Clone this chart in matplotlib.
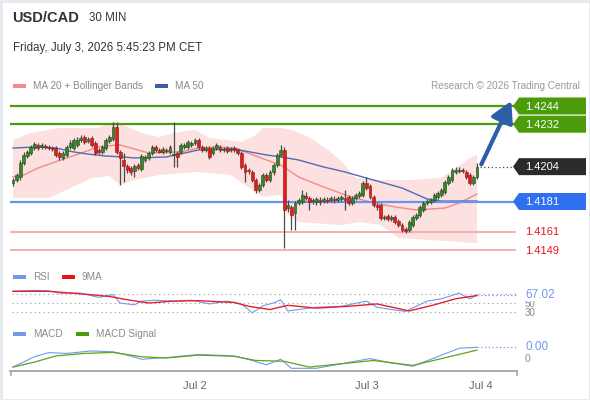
import matplotlib
matplotlib.use("Agg")
import matplotlib.pyplot as plt
import numpy as np
from matplotlib.patches import Polygon, Rectangle

plt.rcParams['font.family'] = ['Liberation Sans', 'DejaVu Sans']

# ---- 30 min candles (index 0 = first bar on the chart)
opens = [1.41932, 1.41952, 1.41972, 1.42064, 1.42110, 1.42130, 1.42163, 1.42183, 1.42170, 1.42176,
         1.42170, 1.42163, 1.42163, 1.42130, 1.42097, 1.42117, 1.42170, 1.42163, 1.42183, 1.42216,
         1.42235, 1.42209, 1.42229, 1.42196, 1.42150, 1.42137, 1.42163, 1.42209, 1.42222, 1.42301,
         1.42137, 1.42084, 1.42044, 1.42031, 1.42011, 1.42051, 1.42025, 1.42084, 1.42097, 1.42130,
         1.42170, 1.42150, 1.42137, 1.42150, 1.42137, 1.42117, 1.42130, 1.42137, 1.42170, 1.42170,
         1.42183, 1.42196, 1.42216, 1.42170, 1.42150, 1.42163, 1.42130, 1.42163, 1.42170, 1.42150,
         1.42163, 1.42150, 1.42163, 1.42150, 1.42130, 1.42051, 1.42018, 1.42005, 1.41952, 1.41886,
         1.41919, 1.41985, 1.41952, 1.42005, 1.42051, 1.42117, 1.42150, 1.41767, 1.41774, 1.41734,
         1.41800, 1.41807, 1.41846, 1.41833, 1.41813, 1.41807, 1.41820, 1.41813, 1.41820, 1.41820,
         1.41827, 1.41820, 1.41827, 1.41833, 1.41840, 1.41800, 1.41833, 1.41846, 1.41853, 1.41932,
         1.41912, 1.41840, 1.41787, 1.41787, 1.41701, 1.41714, 1.41695, 1.41708, 1.41681, 1.41655,
         1.41628, 1.41622, 1.41655, 1.41701, 1.41721, 1.41754, 1.41800, 1.41807, 1.41820, 1.41840,
         1.41853, 1.41873, 1.41932, 1.41952, 1.42005, 1.42011, 1.42018, 1.42005, 1.41985, 1.41932,
         1.41972]
highs = [1.41965, 1.41998, 1.42084, 1.42137, 1.42150, 1.42183, 1.42203, 1.42196, 1.42196, 1.42189,
         1.42183, 1.42176, 1.42176, 1.42143, 1.42143, 1.42183, 1.42216, 1.42229, 1.42235, 1.42249,
         1.42249, 1.42235, 1.42242, 1.42209, 1.42163, 1.42183, 1.42229, 1.42249, 1.42334, 1.42334,
         1.42150, 1.42130, 1.42057, 1.42044, 1.42057, 1.42064, 1.42123, 1.42117, 1.42143, 1.42183,
         1.42183, 1.42163, 1.42170, 1.42163, 1.42183, 1.42334, 1.42143, 1.42196, 1.42196, 1.42216,
         1.42209, 1.42229, 1.42229, 1.42183, 1.42176, 1.42176, 1.42176, 1.42196, 1.42183, 1.42170,
         1.42176, 1.42170, 1.42176, 1.42163, 1.42143, 1.42064, 1.42031, 1.42018, 1.41965, 1.41932,
         1.41998, 1.41998, 1.42018, 1.42064, 1.42130, 1.42183, 1.42170, 1.41820, 1.41787, 1.41813,
         1.41833, 1.41886, 1.41873, 1.41846, 1.41833, 1.41840, 1.41840, 1.41840, 1.41840, 1.41846,
         1.41846, 1.41846, 1.41853, 1.41886, 1.41853, 1.41846, 1.41866, 1.41879, 1.41945, 1.41972,
         1.41925, 1.41853, 1.41800, 1.41800, 1.41721, 1.41728, 1.41721, 1.41721, 1.41695, 1.41668,
         1.41642, 1.41688, 1.41721, 1.41734, 1.41787, 1.41813, 1.41827, 1.41833, 1.41866, 1.41879,
         1.41899, 1.41952, 1.41985, 1.42031, 1.42038, 1.42038, 1.42031, 1.42018, 1.41998, 1.41985,
         1.42064]
lows = [1.41912, 1.41939, 1.41952, 1.42051, 1.42097, 1.42117, 1.42150, 1.42150, 1.42156, 1.42156,
        1.42150, 1.42143, 1.42104, 1.42084, 1.42084, 1.42104, 1.42156, 1.42150, 1.42170, 1.42203,
        1.42189, 1.42196, 1.42170, 1.42117, 1.42123, 1.42123, 1.42150, 1.42196, 1.42209, 1.42123,
        1.41919, 1.41939, 1.41998, 1.41985, 1.41972, 1.42018, 1.42011, 1.42071, 1.42084, 1.42117,
        1.42137, 1.42130, 1.42123, 1.42130, 1.42123, 1.42038, 1.42038, 1.42123, 1.42156, 1.42156,
        1.42170, 1.42183, 1.42156, 1.42137, 1.42137, 1.42090, 1.42117, 1.42150, 1.42137, 1.42137,
        1.42130, 1.42137, 1.42137, 1.42117, 1.42025, 1.41939, 1.41991, 1.41939, 1.41866, 1.41873,
        1.41906, 1.41939, 1.41939, 1.41985, 1.42038, 1.42104, 1.41503, 1.41741, 1.41622, 1.41622,
        1.41787, 1.41794, 1.41820, 1.41754, 1.41794, 1.41787, 1.41787, 1.41800, 1.41800, 1.41807,
        1.41800, 1.41807, 1.41813, 1.41754, 1.41787, 1.41787, 1.41820, 1.41833, 1.41840, 1.41886,
        1.41827, 1.41774, 1.41754, 1.41688, 1.41688, 1.41681, 1.41681, 1.41661, 1.41642, 1.41609,
        1.41602, 1.41609, 1.41642, 1.41688, 1.41708, 1.41741, 1.41787, 1.41794, 1.41807, 1.41827,
        1.41840, 1.41860, 1.41919, 1.41939, 1.41991, 1.41998, 1.41998, 1.41958, 1.41919, 1.41919,
        1.41958]
closes = [1.41952, 1.41985, 1.42064, 1.42117, 1.42137, 1.42170, 1.42189, 1.42163, 1.42183, 1.42170,
          1.42163, 1.42156, 1.42117, 1.42104, 1.42130, 1.42170, 1.42196, 1.42216, 1.42216, 1.42229,
          1.42203, 1.42222, 1.42183, 1.42130, 1.42137, 1.42170, 1.42216, 1.42235, 1.42301, 1.42137,
          1.42097, 1.42044, 1.42018, 1.42005, 1.42044, 1.42031, 1.42110, 1.42104, 1.42130, 1.42170,
          1.42150, 1.42137, 1.42156, 1.42143, 1.42170, 1.42123, 1.42104, 1.42183, 1.42183, 1.42203,
          1.42196, 1.42216, 1.42170, 1.42150, 1.42163, 1.42104, 1.42163, 1.42183, 1.42150, 1.42156,
          1.42143, 1.42156, 1.42150, 1.42130, 1.42038, 1.42005, 1.42011, 1.41952, 1.41886, 1.41919,
          1.41985, 1.41952, 1.42005, 1.42051, 1.42117, 1.42150, 1.41754, 1.41787, 1.41721, 1.41800,
          1.41820, 1.41853, 1.41833, 1.41807, 1.41820, 1.41827, 1.41807, 1.41827, 1.41813, 1.41833,
          1.41820, 1.41833, 1.41840, 1.41820, 1.41800, 1.41833, 1.41853, 1.41866, 1.41932, 1.41899,
          1.41840, 1.41787, 1.41774, 1.41701, 1.41708, 1.41695, 1.41708, 1.41675, 1.41655, 1.41622,
          1.41615, 1.41675, 1.41708, 1.41721, 1.41774, 1.41800, 1.41813, 1.41820, 1.41853, 1.41866,
          1.41886, 1.41939, 1.41972, 1.42018, 1.42018, 1.42018, 1.42011, 1.41972, 1.41932, 1.41972,
          1.42038]

# ---- indicators (bar index, value)
ma20_idx = [0, 3, 7, 15, 20, 24, 29, 30, 38, 47, 52, 57, 62, 71, 75, 80, 87, 94, 100, 107, 113, 121, 125, 130]
ma20_val = [1.41972, 1.41985, 1.42031, 1.42097, 1.42137, 1.42170, 1.42183, 1.42183, 1.42130, 1.42137,
            1.42163, 1.42170, 1.42163, 1.42084, 1.42051, 1.41972, 1.41906, 1.41846, 1.41807, 1.41774,
            1.41754, 1.41767, 1.41800, 1.41860]
ma50_idx = [0, 7, 12, 17, 21, 26, 31, 34, 43, 52, 62, 71, 75, 80, 87, 93, 99, 109, 116, 120, 130]
ma50_val = [1.42163, 1.42170, 1.42163, 1.42137, 1.42123, 1.42110, 1.42104, 1.42097, 1.42104, 1.42150,
            1.42156, 1.42117, 1.42104, 1.42084, 1.42038, 1.42005, 1.41965, 1.41899, 1.41827, 1.41813,
            1.41813]
bb_up_idx = [0, 5, 13, 24, 28, 31, 36, 41, 45, 51, 55, 64, 68, 70, 75, 78, 83, 89, 93, 96, 103, 111, 120, 124, 128, 130]
bb_up_val = [1.42216, 1.42262, 1.42295, 1.42295, 1.42334, 1.42315, 1.42262, 1.42235, 1.42262, 1.42282,
             1.42229, 1.42203, 1.42249, 1.42295, 1.42295, 1.42282, 1.42235, 1.42137, 1.42051, 1.41965,
             1.41952, 1.41952, 1.41965, 1.42031, 1.42097, 1.42117]
bb_lo_idx = [0, 10, 15, 22, 27, 30, 34, 41, 52, 61, 65, 70, 75, 77, 80, 92, 97, 103, 108, 117, 125, 130]
bb_lo_val = [1.41833, 1.41833, 1.41886, 1.41965, 1.41978, 1.41919, 1.41952, 1.41985, 1.42005, 1.41985,
             1.41919, 1.41840, 1.41853, 1.41721, 1.41675, 1.41655, 1.41675, 1.41655, 1.41569, 1.41556,
             1.41543, 1.41536]

rsi_idx = [0, 6, 10, 13, 19, 24, 28, 30, 34, 36, 40, 45, 50, 55, 60, 64, 67, 70, 73, 75,
           77, 80, 85, 92, 99, 102, 106, 110, 113, 116, 120, 125, 128, 130]
rsi_val = [75, 77, 76, 71, 71, 62, 68, 50, 46, 54, 56, 54, 56, 48, 54, 48, 29, 44, 50, 57,
           33, 36, 41, 43, 54, 41, 36, 32, 43, 54, 59, 71, 59, 67.02]
rsi_ma_idx = [0, 10, 20, 27, 32, 38, 45, 52, 62, 66, 72, 77, 85, 94, 102, 111, 118, 124, 130]
rsi_ma_val = [75, 75, 69, 64, 57, 50, 54, 55, 51, 43, 36, 45, 39, 43, 48, 33, 46, 59, 66]

macd_idx = [0, 6, 10, 15, 22, 28, 32, 36, 43, 52, 62, 67, 71, 75, 78, 85, 92, 100, 106, 112, 118, 125, 130]
macd_val = [-0.00023, 0.00002, 0.00012, 0.00010, 0.00016, 0.00014, 0.00006, -0.00004, 0.00000, 0.000075,
            0.00004, -0.00007, -0.000175, -0.00004, -0.00026, -0.00026, -0.00015, -0.000025, -0.00013,
            -0.00021, -0.00001, 0.000225, 0.00025]
sig_idx = [0, 6, 12, 20, 28, 36, 43, 52, 62, 68, 76, 83, 92, 101, 112, 120, 130]
sig_val = [-0.00023, -0.00011, 0.00004, 0.00010, 0.000125, 0.00002, -0.00001, 0.00006, 0.00003, -0.00007,
           -0.00009, -0.00023, -0.00015, -0.00007, -0.00019, -0.000025, 0.00018]

resistances = [1.4244, 1.4232]
last_price = 1.4204
pivot = 1.4181
supports = [1.4161, 1.4149]
day_ticks = [51, 99.2, 131]
day_labels = ["Jul 2", "Jul 3", "Jul 4"]

W, H = 590, 400
GREEN = "#4b9b0b"
BLUE_LVL = "#2f6ff0"
RED_TXT = "#e8141e"
RSI_BLUE = "#7497ee"

fig = plt.figure(figsize=(5.9, 4.0), dpi=100)


def box(l, t, r, b):
    return [l / W, 1 - b / H, (r - l) / W, (b - t) / H]


ax = fig.add_axes(box(10, 100, 517, 258))
ax_rsi = fig.add_axes(box(10, 285, 517, 318))
ax_macd = fig.add_axes(box(10, 340, 517, 371))
ov = fig.add_axes([0, 0, 1, 1], zorder=10)
ov.set_xlim(0, W)
ov.set_ylim(H, 0)
ov.axis("off")
ov.patch.set_alpha(0)

xl = (-0.84, 141.2)
for a in (ax, ax_rsi, ax_macd):
    a.set_xlim(*xl)
    a.set_xticks([])
    a.set_yticks([])
    for s in a.spines.values():
        s.set_visible(False)
ax.set_ylim(1.414374, 1.424796)
ax_rsi.set_ylim(17.9, 88.5)
ax_macd.set_ylim(-0.000325, 0.000425)

# bollinger + moving averages
ax.fill(np.concatenate([bb_up_idx, bb_lo_idx[::-1]]),
        np.concatenate([bb_up_val, bb_lo_val[::-1]]), color="#fde0e0", lw=0, zorder=1)
ax.plot(ma20_idx, ma20_val, color="#f28a8a", lw=1.0, zorder=2)
ax.plot(ma50_idx, ma50_val, color="#4b6fb0", lw=1.0, zorder=2)

# candles
o = np.array(opens); c = np.array(closes)
idx = np.arange(len(o))
up = c >= o
ax.vlines(idx, lows, highs, color="#4a4a4a", lw=0.9, zorder=3)
body = np.maximum(np.abs(c - o), 0.00003)
ax.bar(idx[up], body[up], bottom=o[up], width=0.8, color="#35852a", edgecolor="#1f4a18", lw=0.4, zorder=4)
ax.bar(idx[~up], body[~up], bottom=c[~up], width=0.8, color="#e31d1d", edgecolor="#8f1414", lw=0.4, zorder=4)

# level lines
for p in resistances:
    ax.axhline(p, 0, 0.993, color=GREEN, lw=1.6, zorder=2)
ax.axhline(pivot, 0, 0.993, color="#6496f0", lw=1.6, zorder=2)
for p in supports:
    ax.axhline(p, 0, 0.997, color="#f6a8a8", lw=1.3, zorder=2)
ax.axhline(last_price, 0.927, 0.993, color="#444444", lw=0.9, ls=(0, (1, 2)), zorder=2)

# forecast arrow
ax.annotate("", xy=(139.6, 1.42473), xytext=(131.2, 1.42055), annotation_clip=False,
            arrowprops=dict(arrowstyle="-|>,head_width=0.5,head_length=0.9", lw=3.0,
                            color="#2f5ea8", shrinkA=0, shrinkB=0, mutation_scale=14))


def py(a, v):
    return H - a.transData.transform((0, v))[1]


def tag(y, text, fc):
    pts = [(513, y), (519, y - 8.5), (586, y - 8.5), (586, y + 8.5), (519, y + 8.5)]
    ov.add_patch(Polygon(pts, closed=True, fc=fc, ec="none"))
    ov.text(525, y + 0.5, text, color="white", fontsize=8, va="center", ha="left")


for p in resistances:
    tag(py(ax, p), f"{p:.4f}", GREEN)
tag(py(ax, last_price), f"{last_price:.4f}", "#2b2b2b")
tag(py(ax, pivot), f"{pivot:.4f}", BLUE_LVL)
for p in supports:
    ov.text(525, py(ax, p) + 0.5, f"{p:.4f}", color=RED_TXT, fontsize=8, va="center")

# RSI panel
for lv in (70, 50, 30):
    ax_rsi.axhline(lv, 0.004, 1, color="#9a9a9a", lw=0.8, ls=(0, (1, 3)))
ax_rsi.plot(rsi_idx, rsi_val, color=RSI_BLUE, lw=0.8)
ax_rsi.plot(rsi_ma_idx, rsi_ma_val, color="#e8202a", lw=1.0)
ax_rsi.plot([130, 141.2], [rsi_val[-1]] * 2, color=RSI_BLUE, lw=0.9, ls=(0, (1, 2)))
ov.text(525, py(ax_rsi, 50) + 1, "50", color="#8a8a8a", fontsize=7, va="center")
ov.text(525, py(ax_rsi, 30) + 0.5, "30", color="#8a8a8a", fontsize=7, va="center")
ov.text(525, py(ax_rsi, rsi_val[-1]), f"{rsi_val[-1]:.2f}", color=RSI_BLUE, fontsize=8.5,
        va="center", bbox=dict(fc="white", ec="none", pad=0.1))

# MACD panel
ax_macd.plot(macd_idx, macd_val, color=RSI_BLUE, lw=0.8)
ax_macd.plot(sig_idx, sig_val, color="#5ea31a", lw=0.9)
ax_macd.plot([130, 141.2], [macd_val[-1]] * 2, color=RSI_BLUE, lw=0.9, ls=(0, (1, 2)))
ov.text(525, py(ax_macd, 0) + 1, "0", color="#8a8a8a", fontsize=7.5, va="center")
ov.text(525, py(ax_macd, macd_val[-1]), f"{macd_val[-1]:.2f}", color=RSI_BLUE, fontsize=8.5,
        va="center", bbox=dict(fc="white", ec="none", pad=0.1))

# time axis
ax_macd.spines["bottom"].set_visible(True)
ax_macd.spines["bottom"].set_color("#aaaaaa")
ax_macd.spines["bottom"].set_linewidth(1.4)
ax_macd.set_xticks(day_ticks)
ax_macd.set_xticklabels(day_labels, color="#666666", fontsize=8)
ax_macd.tick_params(axis="x", length=0, pad=7)
ov.plot([11, 11], [371, 375], color="#aaaaaa", lw=1.2)
ov.plot([516.5, 516.5], [371, 375], color="#aaaaaa", lw=1.2)

# header
ov.text(12, 18, "USD/CAD", fontsize=10.5, fontweight="bold", color="#333333", va="center")
ov.text(89, 18, "30 MIN", fontsize=8.3, color="#333333", va="center")
ov.text(13, 48, "Friday, July 3, 2026 5:45:23 PM CET", fontsize=8.3, color="#333333", va="center")


def legend_item(x, y, color, text):
    ov.add_patch(Rectangle((x, y - 2), 13, 4, fc=color, ec="none"))
    ov.text(x + 20, y, text, fontsize=7.2, color="#8a8a8a", va="center")


legend_item(13, 86, "#f28a8a", "MA 20 + Bollinger Bands")
legend_item(155, 86, "#3d5f9e", "MA 50")
ov.text(580, 86, "Research \u00a9 2026 Trading Central", fontsize=7.2, color="#999999", va="center", ha="right")
legend_item(13, 277, RSI_BLUE, "RSI")
legend_item(62, 277, "#ee1111", "9MA")
legend_item(13, 334, RSI_BLUE, "MACD")
legend_item(76, 334, "#4b9b0b", "MACD Signal")

ov.add_patch(Rectangle((0.5, 0.5), 589, 399, fill=False, ec="#e4e9ef", lw=2))

fig.savefig("out.png", dpi=100)
